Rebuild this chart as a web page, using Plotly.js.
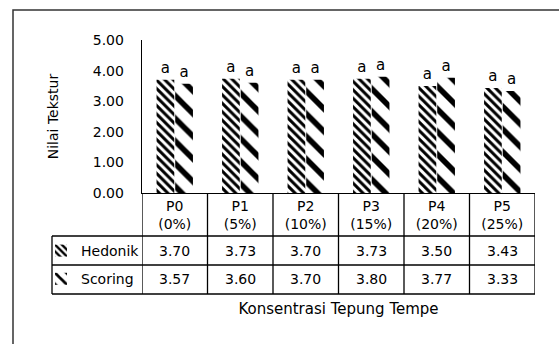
<!DOCTYPE html>
<html>
<head>
<meta charset="utf-8">
<script src="https://cdn.plot.ly/plotly-3.0.1.min.js"></script>
<style>
  html, body { margin: 0; padding: 0; background: #fff; }
  #chart { width: 559px; height: 344px; }
</style>
</head>
<body>
<div id="chart"></div>
<script>
// Treatments and flour concentration
const categories = ['P0', 'P1', 'P2', 'P3', 'P4', 'P5'];
const concentrations = ['0%', '5%', '10%', '15%', '20%', '25%'];

// Texture scores per treatment
const seriesNames = ['Hedonik', 'Scoring'];
const hedonik = [3.70, 3.73, 3.70, 3.73, 3.50, 3.43];
const scoring = [3.57, 3.60, 3.70, 3.80, 3.77, 3.33];

// Significance notation above each bar
const hedonikNotation = ['a', 'a', 'a', 'a', 'a', 'a'];
const scoringNotation = ['a', 'a', 'a', 'a', 'a', 'a'];

const FONT = 'DejaVu Sans';
const W = 559, H = 344;
const M = { l: 142, r: 24, t: 40, b: 151 };
const plotW = W - M.l - M.r;
const plotH = H - M.t - M.b;
// pixel -> paper helpers for the data table drawn under the axis
const px = x => (x - M.l) / plotW;
const py = y => (H - M.b - y) / plotH;

const tickText = categories.map((c, i) => c + '<br>(' + concentrations[i] + ')');

const traces = [
  {
    type: 'bar', name: seriesNames[0], x: categories, y: hedonik,
    text: hedonikNotation, textposition: 'outside', cliponaxis: false,
    textfont: { family: FONT, size: 15, color: '#000' },
    legendgroup: 'h',
    marker: { color: 'white', line: { width: 0 },
      pattern: { shape: '\\', size: 6, solidity: 0.5, fgcolor: '#000', bgcolor: '#fff' } },
    hoverinfo: 'skip'
  },
  {
    type: 'bar', name: seriesNames[1], x: categories, y: scoring,
    text: scoringNotation, textposition: 'outside', cliponaxis: false,
    textfont: { family: FONT, size: 15, color: '#000' },
    legendgroup: 's',
    marker: { color: 'white', line: { width: 0 },
      pattern: { shape: '\\', size: 16, solidity: 0.35, fgcolor: '#000', bgcolor: '#fff' } },
    hoverinfo: 'skip'
  }
];

// Data table: rows of values under each category
const rowY = [py(251), py(279)];
const annotations = [];
[hedonik, scoring].forEach((vals, r) => {
  vals.forEach((v, i) => {
    annotations.push({
      x: categories[i], xref: 'x', y: rowY[r], yref: 'paper',
      text: v.toFixed(2), showarrow: false,
      font: { family: FONT, size: 14, color: '#000' },
      xanchor: 'center', yanchor: 'middle'
    });
  });
});

const line = { color: '#000', width: 1.3 };
const shapes = [];
// column dividers
for (let k = 0; k <= categories.length; k++) {
  shapes.push({ type: 'line', xref: 'x', yref: 'paper',
    x0: k - 0.5, x1: k - 0.5, y0: 0, y1: py(294), line });
}
// row separators and left edge of the row-label column
[236, 265, 294].forEach(y => {
  shapes.push({ type: 'line', xref: 'paper', yref: 'paper',
    x0: px(52), x1: 1, y0: py(y), y1: py(y), line });
});
shapes.push({ type: 'line', xref: 'paper', yref: 'paper',
  x0: px(52), x1: px(52), y0: py(236), y1: py(294), line });
// outer chart frame
shapes.push({ type: 'rect', xref: 'paper', yref: 'paper',
  x0: px(13), x1: px(W + 5), y0: py(H + 5), y1: py(10),
  line: { color: '#333', width: 1.5 } });

const layout = {
  width: W, height: H,
  margin: M,
  paper_bgcolor: '#fff', plot_bgcolor: '#fff',
  font: { family: FONT, size: 14, color: '#000' },
  barmode: 'group', bargap: 0.43, bargroupgap: 0.05,
  showlegend: true,
  legend: {
    x: px(41), xanchor: 'left', y: py(265), yanchor: 'middle',
    bgcolor: 'rgba(0,0,0,0)', borderwidth: 0,
    font: { family: FONT, size: 14, color: '#000' },
    tracegroupgap: 7, traceorder: 'grouped'
  },
  xaxis: {
    type: 'category', range: [-0.5, 5.5],
    tickvals: categories, ticktext: tickText,
    showline: true, linecolor: '#000', linewidth: 1.3,
    ticks: '', showgrid: false, zeroline: false,
    tickfont: { family: FONT, size: 14, color: '#000' },
    title: { text: 'Konsentrasi Tepung Tempe', standoff: 72,
      font: { family: FONT, size: 15, color: '#000' } },
    automargin: false, fixedrange: true
  },
  yaxis: {
    range: [0, 5], dtick: 1, tick0: 0, tickformat: '.2f',
    showline: true, linecolor: '#000', linewidth: 1.3,
    ticks: '', showgrid: false, zeroline: false,
    ticklabelstandoff: 14,
    tickfont: { family: FONT, size: 14, color: '#000' },
    title: { text: 'Nilai Tekstur', standoff: 30,
      font: { family: FONT, size: 14, color: '#000' } },
    automargin: false, fixedrange: true
  },
  annotations, shapes
};

Plotly.newPlot('chart', traces, layout, { displayModeBar: false, staticPlot: true });
</script>
</body>
</html>
